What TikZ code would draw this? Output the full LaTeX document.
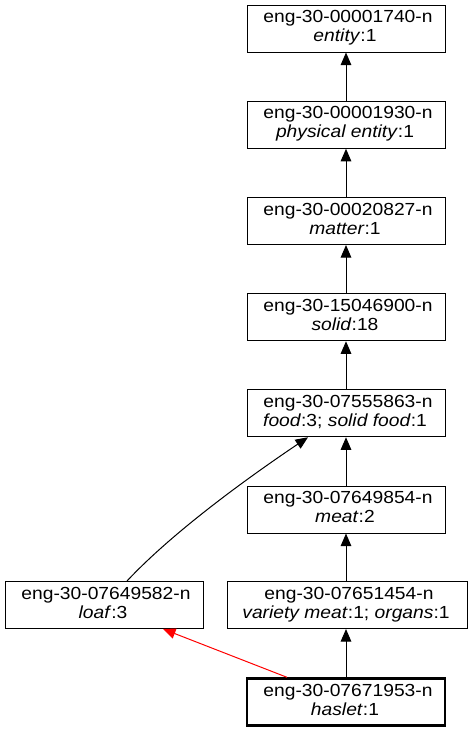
\documentclass[tikz,border=0pt]{standalone}
\usepackage{fontspec}
\newfontfamily\gv[FakeStretch=1.1]{Liberation Sans}
\usetikzlibrary{arrows.meta}
\newcommand\synlab[2]{\rule{0pt}{12.5pt}\hspace*{4pt}#1\\#2\hspace*{2pt}\rule[-5.5pt]{0pt}{0pt}}
\begin{document}
\begin{tikzpicture}[x=1pt,y=-1pt,
  syn/.style={draw, line width=1pt, inner sep=0pt, minimum height=47pt,
    minimum width=198pt, align=center, font=\gv\fontsize{17.5}{19}\selectfont},
  wide/.style={minimum width=240pt},
  head/.style={line width=2.4pt},
  edge/.style={-{Triangle[length=12.5pt,width=10.5pt]}, line width=1pt},
]
\useasboundingbox (0,0) rectangle (472,731);
\fill[white] (0,0) rectangle (472,731);

\node[syn] (entity)   at (346,28.5)   {\synlab{eng-30-00001740-n}{\textit{entity}:1}};
\node[syn] (physical) at (346,124.75) {\synlab{eng-30-00001930-n}{\textit{physical entity}:1}};
\node[syn] (matter)   at (346,221)    {\synlab{eng-30-00020827-n}{\textit{matter}:1}};
\node[syn] (solid)    at (346,317.25) {\synlab{eng-30-15046900-n}{\textit{solid}:18}};
\node[syn] (food)     at (346,413.25) {\synlab{eng-30-07555863-n}{\textit{food}:3; \textit{solid food}:1}};
\node[syn] (meat)     at (346,509.5)  {\synlab{eng-30-07649854-n}{\textit{meat}:2}};
\node[syn,wide] (variety) at (347,605) {\synlab{eng-30-07651454-n}{\textit{variety meat}:1; \textit{organs}:1}};
\node[syn] (loaf)     at (104,605)    {\synlab{eng-30-07649582-n}{\textit{loaf}:3}};
\node[syn,head] (haslet) at (346,702) {\synlab{eng-30-07671953-n}{\textit{haslet}:1}};

\draw[edge] (physical.north) -- (entity.south);
\draw[edge] (matter.north) -- (physical.south);
\draw[edge] (solid.north) -- (matter.south);
\draw[edge] (food.north) -- (solid.south);
\draw[edge] (meat.north) -- (food.south);
\draw[edge] ([xshift=-1pt]variety.north) -- (meat.south);
\draw[edge] (haslet.north) -- ([xshift=-1pt]variety.south);
\draw[edge] ([xshift=23pt]loaf.north) .. controls (170,535) and (240,483) .. ([xshift=-38pt]food.south);
\draw[edge, red] ([xshift=-59pt]haslet.north) -- ([xshift=59pt]loaf.south);
\end{tikzpicture}
\end{document}
